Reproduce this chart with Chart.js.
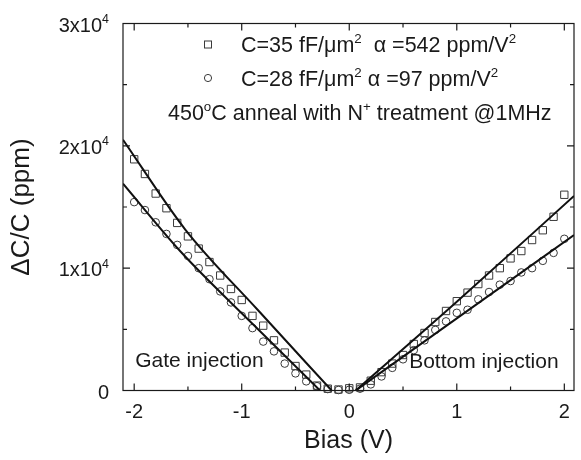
<!DOCTYPE html>
<html>
<head>
<meta charset="utf-8">
<script src="https://cdn.jsdelivr.net/npm/chart.js@4.4.1/dist/chart.umd.min.js"></script>
<style>
  html, body { margin: 0; padding: 0; background: #fff; }
  #wrap { width: 581px; height: 460px; }
</style>
</head>
<body>
<div id="wrap"><canvas id="cvChart" width="581" height="460"></canvas></div>
<script>
// bias sweep, 0.1 V steps
const biasV = [-2.0, -1.9, -1.8, -1.7, -1.6, -1.5, -1.4, -1.3, -1.2, -1.1, -1.0,
               -0.9, -0.8, -0.7, -0.6, -0.5, -0.4, -0.3, -0.2, -0.1, 0.0,
                0.1, 0.2, 0.3, 0.4, 0.5, 0.6, 0.7, 0.8, 0.9, 1.0,
                1.1, 1.2, 1.3, 1.4, 1.5, 1.6, 1.7, 1.8, 1.9, 2.0];

// dC/C (ppm), C=35 fF/um2 sample (squares)
const dcc35 = [18900, 17700, 16100, 14900, 13700, 12600, 11600, 10500, 9400, 8300, 7400,
               6100, 5300, 4100, 3100, 2000, 1300, 400, 150, 80, 180,
               250, 800, 1500, 2200, 2900, 3800, 4700, 5600, 6500, 7300,
               8000, 8700, 9400, 10000, 10800, 11400, 12300, 13100, 14200, 16000];

// dC/C (ppm), C=28 fF/um2 sample (circles)
const dcc28 = [15400, 14750, 13750, 12800, 11900, 11000, 10000, 9100, 8100, 7200, 6100,
               5100, 4000, 3200, 2200, 1400, 750, 350, 120, 40, 60,
               150, 500, 1150, 1850, 2550, 3300, 4100, 4950, 5650, 6350,
               6600, 7450, 8050, 8650, 8950, 9650, 10000, 10600, 11250, 12400];

// fitted curves, gate side and bottom side
const fit35GateV = [-2.104, -1.525, -0.85, -0.164];
const fit35Gate  = [20500, 13160, 6580, 0];
const fit28GateV = [-2.104, -1.571, -0.9, -0.272];
const fit28Gate  = [16900, 11380, 5450, 0];
const fit35BotV  = [0.06, 1.0, 2.09];
const fit35Bot   = [0, 7250, 15900];
const fit28BotV  = [0.06, 1.0, 2.09];
const fit28Bot   = [0, 5900, 12700];

// axis ticks
const xMajor = [-2, -1, 0, 1, 2];
const xMinor = [-1.5, -0.5, 0.5, 1.5];
const yMajor = [0, 10000, 20000, 30000];
const yMajorLabels = [["0", ""], ["1x10", "4"], ["2x10", "4"], ["3x10", "4"]];
const yMinor = [5000, 15000, 25000];

const FONT = "'Liberation Sans', Arial, sans-serif";
const INK = "#1a1a1a";
const MARK = "#3a3a3a";

function toXY(xs, ys) {
    return xs.map((x, i) => ({ x: x, y: ys[i] }));
}

// draw a run of text pieces; pieces flagged true are superscripts
function drawRich(ctx, parts, x, y, size) {
    ctx.textBaseline = "alphabetic";
    ctx.textAlign = "left";
    let cx = x;
    for (const [txt, sup] of parts) {
        const s = sup ? size * 0.62 : size;
        ctx.font = s + "px " + FONT;
        ctx.fillText(txt, cx, sup ? y - size * 0.42 : y);
        cx += ctx.measureText(txt).width;
    }
    return cx;
}

function richWidth(ctx, parts, size) {
    let w = 0;
    for (const [txt, sup] of parts) {
        ctx.font = (sup ? size * 0.62 : size) + "px " + FONT;
        w += ctx.measureText(txt).width;
    }
    return w;
}

const frameTicks = {
    id: "frameTicks",
    afterDatasetsDraw(chart) {
        const ctx = chart.ctx;
        const a = chart.chartArea;
        const xs = chart.scales.x, ys = chart.scales.y;
        ctx.save();
        ctx.strokeStyle = INK;
        ctx.lineWidth = 1.2;
        ctx.strokeRect(a.left, a.top, a.right - a.left, a.bottom - a.top);

        ctx.beginPath();
        const tick = (vals, len) => {
            for (const v of vals) {
                const px = xs.getPixelForValue(v);
                ctx.moveTo(px, a.bottom); ctx.lineTo(px, a.bottom - len);
                ctx.moveTo(px, a.top); ctx.lineTo(px, a.top + len);
            }
        };
        const ytick = (vals, len) => {
            for (const v of vals) {
                const py = ys.getPixelForValue(v);
                ctx.moveTo(a.left, py); ctx.lineTo(a.left + len, py);
                ctx.moveTo(a.right, py); ctx.lineTo(a.right - len, py);
            }
        };
        tick(xMajor, 7); tick(xMinor, 4);
        ytick(yMajor, 7); ytick(yMinor, 4);
        ctx.stroke();

        // y tick labels with exponent
        ctx.fillStyle = INK;
        yMajor.forEach((v, i) => {
            const py = ys.getPixelForValue(v);
            const parts = [[yMajorLabels[i][0], false], [yMajorLabels[i][1], true]];
            const w = richWidth(ctx, parts, 20);
            drawRich(ctx, parts, 109 - w, py + 8, 20);
        });

        // region labels
        ctx.font = "21px " + FONT;
        ctx.textBaseline = "middle";
        ctx.textAlign = "left";
        ctx.fillText("Gate injection", xs.getPixelForValue(-1.99), ys.getPixelForValue(2400));
        ctx.fillText("Bottom injection", xs.getPixelForValue(0.557), ys.getPixelForValue(2300));

        // legend
        ctx.strokeStyle = MARK;
        ctx.lineWidth = 1;
        ctx.strokeRect(204.5, 41, 7, 7);
        ctx.beginPath();
        ctx.arc(208, 78, 3.6, 0, Math.PI * 2);
        ctx.stroke();
        ctx.fillStyle = INK;
        drawRich(ctx, [["C=35 fF/\u03bcm", false], ["2", true], ["  \u03b1 =542 ppm/V", false], ["2", true]], 241, 52, 21.5);
        drawRich(ctx, [["C=28 fF/\u03bcm", false], ["2", true], [" \u03b1 =97 ppm/V", false], ["2", true]], 241, 86, 21.5);
        drawRich(ctx, [["450", false], ["o", true], ["C anneal with N", false], ["+", true], [" treatment @1MHz", false]], 168, 120, 21.5);
        ctx.restore();
    }
};

const markerSet = (label, data, style, radius) => ({
    label: label,
    data: data,
    showLine: false,
    pointStyle: style,
    pointRadius: radius,
    pointBorderWidth: 1,
    pointBorderColor: MARK,
    pointBackgroundColor: "rgba(255,255,255,0)",
    clip: false,
    order: 2
});

const fitSet = (data) => ({
    data: data,
    showLine: true,
    pointRadius: 0,
    borderColor: "#111",
    borderWidth: 2,
    cubicInterpolationMode: "monotone",
    order: 1
});

Chart.defaults.font.family = FONT;
Chart.defaults.color = INK;

new Chart(document.getElementById("cvChart").getContext("2d"), {
    type: "scatter",
    data: {
        datasets: [
            markerSet("C=35", toXY(biasV, dcc35), "rect", 5.2),
            markerSet("C=28", toXY(biasV, dcc28), "circle", 3.8),
            fitSet(toXY(fit35GateV, fit35Gate)),
            fitSet(toXY(fit28GateV, fit28Gate)),
            fitSet(toXY(fit35BotV, fit35Bot)),
            fitSet(toXY(fit28BotV, fit28Bot))
        ]
    },
    options: {
        responsive: false,
        animation: false,
        layout: { padding: { top: 23.5, right: 7, left: 0, bottom: 0 } },
        plugins: { legend: { display: false }, tooltip: { enabled: false } },
        scales: {
            x: {
                type: "linear",
                min: -2.104,
                max: 2.09,
                grid: { display: false, drawTicks: false },
                border: { display: false },
                afterBuildTicks: s => { s.ticks = xMajor.map(v => ({ value: v })); },
                afterFit: s => { s.height = 69.5; },
                ticks: { font: { size: 20 }, color: INK, padding: 10, maxRotation: 0 },
                title: { display: true, text: "Bias (V)", font: { size: 25 }, color: INK, padding: { top: 0, bottom: 4 } }
            },
            y: {
                type: "linear",
                min: 0,
                max: 30000,
                grid: { display: false, drawTicks: false },
                border: { display: false },
                afterBuildTicks: s => { s.ticks = yMajor.map(v => ({ value: v })); },
                afterFit: s => { s.width = 123; },
                ticks: { display: false },
                title: { display: true, text: "\u0394C/C (ppm)", font: { size: 26 }, color: INK, padding: { top: 6, bottom: 0 } }
            }
        }
    },
    plugins: [frameTicks]
});
</script>
</body>
</html>
